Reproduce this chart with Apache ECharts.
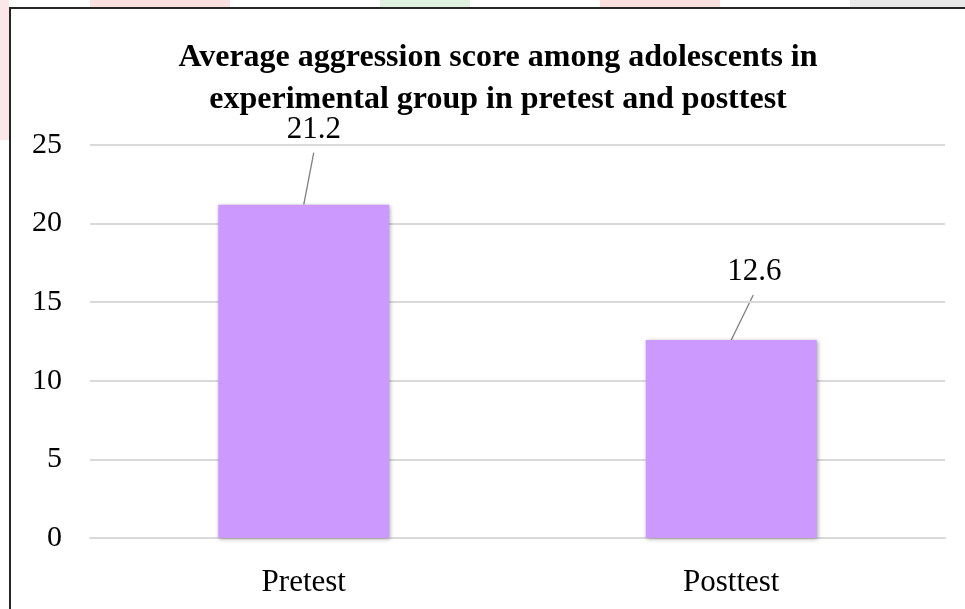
<!DOCTYPE html>
<html>
<head>
<meta charset="utf-8">
<script src="https://cdn.jsdelivr.net/npm/echarts@6/dist/echarts.min.js"></script>
<style>
  html, body { margin: 0; padding: 0; background: #ffffff; }
  #chart { width: 965px; height: 609px; }
</style>
</head>
<body>
<div id="chart"></div>
<script>
// Categories and mean scores
const categories = ['Pretest', 'Posttest'];
const scores = [21.2, 12.6];
const yTicks = [0, 5, 10, 15, 20, 25];

// Where each value label sits relative to its bar's top centre,
// and where its leader line ends: [labelDx, labelRise, lineDx, lineRise]
const labelPlacement = [
  [10, 59, 10, 52],
  [23, 53, 22, 45]
];

const chart = echarts.init(document.getElementById('chart'), null, { renderer: 'canvas' });

const serif = '"Liberation Serif", "Times New Roman", serif';

const frameGraphics = [
  // faint background tints around the chart frame
  { type: 'rect', shape: { x: 90, y: 0, width: 140, height: 8 }, style: { fill: 'rgba(240,150,150,0.3)' }, silent: true },
  { type: 'rect', shape: { x: 380, y: 0, width: 90, height: 8 }, style: { fill: 'rgba(150,210,150,0.3)' }, silent: true },
  { type: 'rect', shape: { x: 600, y: 0, width: 120, height: 8 }, style: { fill: 'rgba(240,150,150,0.3)' }, silent: true },
  { type: 'rect', shape: { x: 850, y: 0, width: 115, height: 8 }, style: { fill: 'rgba(180,180,180,0.3)' }, silent: true },
  { type: 'rect', shape: { x: 0, y: 0, width: 9, height: 140 }, style: { fill: 'rgba(240,160,160,0.25)' }, silent: true },
  // chart frame
  {
    type: 'polyline',
    shape: { points: [[10, 609], [10, 8], [965, 8]] },
    style: { stroke: '#262626', lineWidth: 2, fill: null },
    silent: true
  }
];

chart.setOption({
  backgroundColor: '#ffffff',
  animation: false,
  title: {
    text: 'Average aggression score among adolescents in\nexperimental group in pretest and posttest',
    left: 493,
    top: 32,
    textAlign: 'center',
    textStyle: {
      fontFamily: serif,
      fontWeight: 'bold',
      fontSize: 32,
      lineHeight: 42,
      color: '#000000'
    }
  },
  graphic: frameGraphics,
  grid: {
    left: 90,
    right: 20,
    top: 145,
    bottom: 71,
    containLabel: false
  },
  xAxis: {
    type: 'category',
    data: categories,
    axisLine: { show: true, lineStyle: { color: '#d9d9d9', width: 2 } },
    axisTick: { show: false },
    axisLabel: {
      fontFamily: serif,
      fontSize: 31,
      color: '#000000',
      margin: 29
    }
  },
  yAxis: {
    type: 'value',
    min: yTicks[0],
    max: yTicks[yTicks.length - 1],
    interval: 5,
    axisLine: { show: false },
    axisTick: { show: false },
    axisLabel: {
      fontFamily: serif,
      fontSize: 30,
      color: '#000000',
      margin: 28
    },
    splitLine: { lineStyle: { color: '#d9d9d9', width: 2 } }
  },
  series: [{
    type: 'bar',
    data: scores,
    barWidth: '40%',
    itemStyle: {
      color: '#CC99FF',
      shadowColor: 'rgba(0,0,0,0.35)',
      shadowBlur: 4,
      shadowOffsetX: 1,
      shadowOffsetY: 1
    },
    label: {
      show: true,
      position: 'top',
      fontFamily: serif,
      fontSize: 31,
      color: '#000000'
    },
    labelLayout: function (params) {
      const p = labelPlacement[params.dataIndex];
      const r = params.rect;
      return {
        x: r.x + r.width / 2 + p[0],
        y: r.y - p[1],
        align: 'center',
        verticalAlign: 'bottom'
      };
    }
  }]
});

// Leader lines from each bar's top centre up towards its value label
const leaderLines = scores.map(function (v, i) {
  const top = chart.convertToPixel({ seriesIndex: 0 }, [i, v]);
  const p = labelPlacement[i];
  return {
    type: 'line',
    shape: { x1: top[0], y1: top[1], x2: top[0] + p[2], y2: top[1] - p[3] },
    style: { stroke: '#7f7f7f', lineWidth: 1.3 },
    silent: true
  };
});

chart.setOption({ graphic: frameGraphics.concat(leaderLines) });
</script>
</body>
</html>
